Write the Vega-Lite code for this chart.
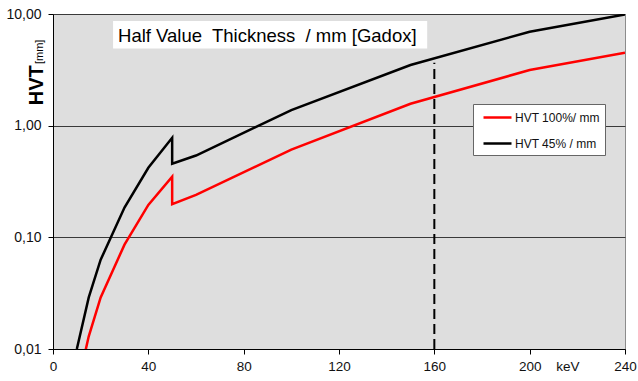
{
  "$schema": "https://vega.github.io/schema/vega-lite/v6.json",
  "width": 572,
  "height": 335,
  "autosize": {"type": "none"},
  "padding": {"left": 53, "top": 14, "right": 13, "bottom": 32},
  "background": "white",
  "config": {
    "font": "Liberation Sans",
    "view": {"fill": "#DEDEDE", "stroke": "#8C8C8C", "strokeWidth": 1},
    "legend": {
      "orient": "none",
      "legendX": 420,
      "legendY": 90,
      "fillColor": "white",
      "strokeColor": "#666666",
      "padding": 5,
      "symbolType": "M-2,0H2",
      "symbolSize": 196,
      "symbolOffset": 11,
      "symbolStrokeWidth": 2.5,
      "labelFontSize": 12,
      "labelColor": "#111111",
      "labelOffset": 9,
      "rowPadding": 11
    },
    "axisX": {
      "title": null,
      "grid": false,
      "domainColor": "#000000",
      "tickColor": "#000000",
      "tickSize": 5,
      "labelFontSize": 13.5,
      "labelColor": "#111111",
      "labelPadding": 5,
      "labelFlush": false
    },
    "axisY": {
      "title": null,
      "grid": true,
      "gridColor": "#3A3A3A",
      "gridWidth": 1,
      "domainColor": "#000000",
      "tickColor": "#000000",
      "tickSize": 5,
      "labelFontSize": 14,
      "labelColor": "#111111",
      "labelPadding": 7
    }
  },
  "encoding": {
    "x": {
      "field": "x", "type": "quantitative",
      "scale": {"domain": [0, 240], "nice": false},
      "axis": {"values": [0, 40, 80, 120, 160, 200, 240]}
    },
    "y": {
      "field": "y", "type": "quantitative",
      "scale": {"type": "log", "domain": [0.01, 10], "nice": false},
      "axis": {"values": [0.01, 0.1, 1, 10], "labelExpr": "replace(format(datum.value, '.2f'), '.', ',')"}
    }
  },
  "layer": [
    {
      "data": {"values": [{"x": 25.2, "x2": 157, "y": 4.92, "y2": 8.64}]},
      "mark": {"type": "rect", "fill": "white"},
      "encoding": {
        "x2": {"field": "x2"},
        "y2": {"field": "y2"}
      }
    },
    {
      "data": {"values": [
        {"x": 10, "y": 0.0044, "s": "HVT 100%/ mm", "o": 1},
        {"x": 15, "y": 0.013, "s": "HVT 100%/ mm", "o": 2},
        {"x": 20, "y": 0.029, "s": "HVT 100%/ mm", "o": 3},
        {"x": 30, "y": 0.086, "s": "HVT 100%/ mm", "o": 4},
        {"x": 40, "y": 0.195, "s": "HVT 100%/ mm", "o": 5},
        {"x": 50, "y": 0.35, "s": "HVT 100%/ mm", "o": 6},
        {"x": 50, "y": 0.198, "s": "HVT 100%/ mm", "o": 7},
        {"x": 60, "y": 0.24, "s": "HVT 100%/ mm", "o": 8},
        {"x": 100, "y": 0.61, "s": "HVT 100%/ mm", "o": 9},
        {"x": 150, "y": 1.57, "s": "HVT 100%/ mm", "o": 10},
        {"x": 200, "y": 3.15, "s": "HVT 100%/ mm", "o": 11},
        {"x": 240, "y": 4.5, "s": "HVT 100%/ mm", "o": 12},
        {"x": 10, "y": 0.01, "s": "HVT 45% / mm", "o": 1},
        {"x": 15, "y": 0.029, "s": "HVT 45% / mm", "o": 2},
        {"x": 20, "y": 0.063, "s": "HVT 45% / mm", "o": 3},
        {"x": 30, "y": 0.185, "s": "HVT 45% / mm", "o": 4},
        {"x": 40, "y": 0.42, "s": "HVT 45% / mm", "o": 5},
        {"x": 50, "y": 0.78, "s": "HVT 45% / mm", "o": 6},
        {"x": 50, "y": 0.457, "s": "HVT 45% / mm", "o": 7},
        {"x": 60, "y": 0.54, "s": "HVT 45% / mm", "o": 8},
        {"x": 100, "y": 1.38, "s": "HVT 45% / mm", "o": 9},
        {"x": 150, "y": 3.49, "s": "HVT 45% / mm", "o": 10},
        {"x": 200, "y": 6.94, "s": "HVT 45% / mm", "o": 11},
        {"x": 240, "y": 9.9, "s": "HVT 45% / mm", "o": 12}
      ]},
      "mark": {"type": "line", "strokeWidth": 2.5, "clip": true},
      "encoding": {
        "color": {
          "field": "s", "type": "nominal",
          "scale": {"domain": ["HVT 100%/ mm", "HVT 45% / mm"], "range": ["#FF0000", "#000000"]},
          "legend": {"title": null}
        },
        "order": {"field": "o", "type": "quantitative"}
      }
    },
    {
      "data": {"values": [{"x": 160, "y": 0.01, "y2": 3.66}]},
      "mark": {"type": "rule", "color": "#000000", "strokeWidth": 2, "strokeDash": [10, 5]},
      "encoding": {
        "y2": {"field": "y2"}
      }
    },
    {
      "data": {"values": [{"x": 27.3, "y": 5.6, "t": "Half Value\u00a0 Thickness\u00a0 / mm [Gadox]"}]},
      "mark": {"type": "text", "align": "left", "baseline": "alphabetic", "fontSize": 18.5, "color": "#000000"},
      "encoding": {
        "text": {"field": "t"}
      }
    },
    {
      "data": {"values": [{"x": 216, "y": 0.0063, "t": "keV"}]},
      "mark": {"type": "text", "align": "center", "baseline": "alphabetic", "fontSize": 13.5, "color": "#111111", "clip": false},
      "encoding": {
        "text": {"field": "t"}
      }
    },
    {
      "data": {"values": [{"x": -4.2, "y": 2.3, "t": "HVT"}]},
      "mark": {"type": "text", "align": "center", "baseline": "alphabetic", "angle": 270, "fontSize": 20, "fontWeight": "bold", "color": "#000000", "clip": false},
      "encoding": {
        "text": {"field": "t"}
      }
    },
    {
      "data": {"values": [{"x": -4.2, "y": 4.58, "t": "[mm]"}]},
      "mark": {"type": "text", "align": "center", "baseline": "alphabetic", "angle": 270, "fontSize": 11, "color": "#000000", "clip": false},
      "encoding": {
        "text": {"field": "t"}
      }
    }
  ]
}
